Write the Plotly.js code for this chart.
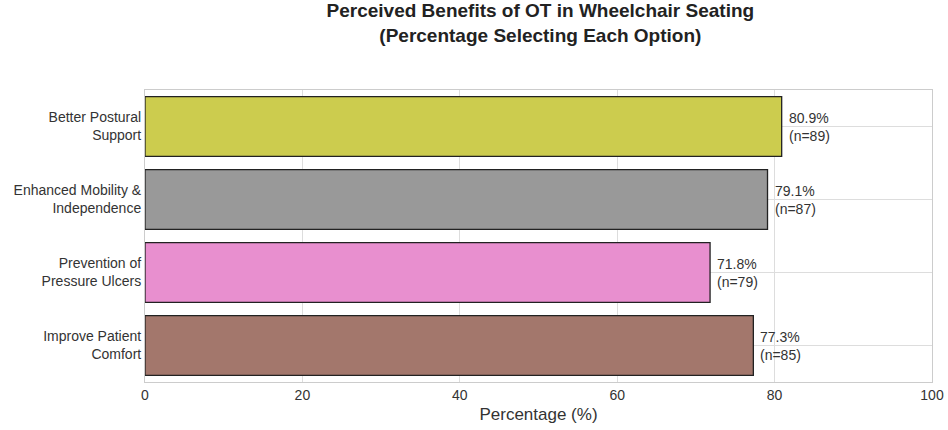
<!DOCTYPE html>
<html>
<head>
<script src="https://cdn.plot.ly/plotly-3.0.1.min.js"></script>
<style>body{margin:0;background:#fff}</style>
</head>
<body>
<div id="chart" style="width:948px;height:430px"></div>
<script>
var categories = ['Better Postural<br>Support', 'Enhanced Mobility &<br>Independence', 'Prevention of<br>Pressure Ulcers', 'Improve Patient<br>Comfort'];
var percents = [80.9, 79.1, 71.8, 77.3];
var counts = [89, 87, 79, 85];
var colors = ['#cccc4e', '#999999', '#e88fcf', '#a3776c'];

var trace = {
  type: 'bar',
  orientation: 'h',
  y: categories,
  x: percents,
  width: 0.82,
  marker: {color: colors, line: {color: '#222', width: 1.3}},
  hoverinfo: 'x+y'
};

var annotations = percents.map(function(p, i) {
  return {
    x: p, y: categories[i], xref: 'x', yref: 'y',
    text: p.toFixed(1) + '%<br>(n=' + counts[i] + ')',
    showarrow: false, xanchor: 'left', xshift: 5, align: 'left',
    font: {size: 14, color: '#333'}
  };
});

var layout = {
  title: {
    text: '<b>Perceived Benefits of OT in Wheelchair Seating<br>(Percentage Selecting Each Option)</b>',
    font: {family: 'Liberation Sans, Arial, sans-serif', size: 19, color: '#222'},
    x: 0.57, y: 0.96, yanchor: 'top'
  },
  font: {family: 'Liberation Sans, Arial, sans-serif', color: '#333'},
  margin: {l: 145, r: 16, t: 90, b: 48},
  xaxis: {
    range: [0, 100], dtick: 20,
    title: {text: 'Percentage (%)', font: {size: 17}, standoff: 6},
    tickfont: {size: 14},
    gridcolor: '#dddddd', showline: true, linecolor: '#cccccc', mirror: true,
    zeroline: false, ticks: ''
  },
  yaxis: {
    autorange: 'reversed',
    tickfont: {size: 14},
    gridcolor: '#dddddd', showline: true, linecolor: '#cccccc', mirror: true,
    ticks: ''
  },
  annotations: annotations,
  showlegend: false,
  plot_bgcolor: '#fff',
  paper_bgcolor: '#fff'
};

Plotly.newPlot('chart', [trace], layout, {displayModeBar: false});
</script>
</body>
</html>
